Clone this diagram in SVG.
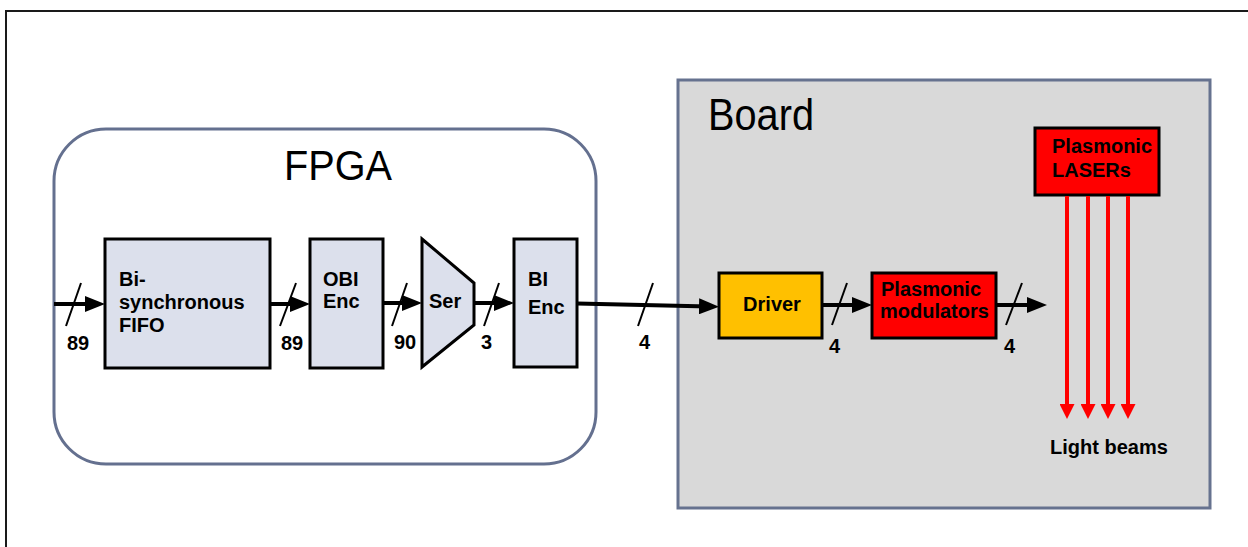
<svg xmlns="http://www.w3.org/2000/svg" width="1248" height="547" viewBox="0 0 1248 547">
  <style>
    .lbl { font-family: "Liberation Sans", Arial, sans-serif; font-weight: bold; font-size: 20px; fill: #000; }
    .title { font-family: "Liberation Sans", Arial, sans-serif; fill: #000; }
    .blk { fill: #DCE0EC; stroke: #000; stroke-width: 3; }
    .bus { stroke: #000; stroke-width: 4; fill: none; }
    .slash { stroke: #000; stroke-width: 2; }
    .beam { stroke: #FF0000; stroke-width: 4; fill: none; }
  </style>
  <defs>
    <marker id="head" markerUnits="userSpaceOnUse" markerWidth="20" markerHeight="16" refX="10" refY="8" orient="auto">
      <path d="M0,0 L20,8 L0,16 z" fill="#000"/>
    </marker>
    <marker id="redhead" markerUnits="userSpaceOnUse" markerWidth="15" markerHeight="15" refX="7" refY="7.5" orient="auto">
      <path d="M0,0 L15,7.5 L0,15 z" fill="#FF0000"/>
    </marker>
  </defs>

  <rect width="1248" height="547" fill="#fff"/>
  <!-- page frame -->
  <path d="M6,547 L6,11 L1248,11" fill="none" stroke="#1a1a1a" stroke-width="2"/>

  <!-- FPGA container -->
  <g id="fpga">
    <rect x="54" y="129" width="542" height="335" rx="52" ry="52" fill="#fff" stroke="#64708F" stroke-width="3"/>
    <text class="title" x="284" y="180" font-size="42" textLength="108" lengthAdjust="spacingAndGlyphs">FPGA</text>
  </g>

  <!-- Board container -->
  <g id="board">
    <rect x="678" y="80" width="532" height="428" fill="#D9D9D9" stroke="#66728F" stroke-width="3"/>
    <text class="title" x="708" y="130" font-size="44" textLength="106" lengthAdjust="spacingAndGlyphs">Board</text>
  </g>

  <g id="fifo">
    <rect class="blk" x="105" y="239" width="165" height="129"/>
    <text class="lbl" x="119" y="286">Bi-</text>
    <text class="lbl" x="119" y="309">synchronous</text>
    <text class="lbl" x="119" y="332">FIFO</text>
  </g>

  <g id="obi-enc">
    <rect class="blk" x="310" y="239" width="73" height="129"/>
    <text class="lbl" x="323" y="286">OBI</text>
    <text class="lbl" x="323" y="308">Enc</text>
  </g>

  <g id="ser">
    <polygon class="blk" points="422,239 474,283 474,325 422,367"/>
    <text class="lbl" x="429" y="308">Ser</text>
  </g>

  <g id="bi-enc">
    <rect class="blk" x="514" y="239" width="63" height="128"/>
    <text class="lbl" x="528" y="286">BI</text>
    <text class="lbl" x="528" y="314">Enc</text>
  </g>

  <g id="driver">
    <rect x="719" y="273" width="103" height="65" fill="#FFC000" stroke="#000" stroke-width="3"/>
    <text class="lbl" x="772" y="311" text-anchor="middle">Driver</text>
  </g>

  <g id="modulators">
    <rect x="872" y="273" width="124" height="65" fill="#FF0000" stroke="#000" stroke-width="3"/>
    <text class="lbl" x="881" y="296">Plasmonic</text>
    <text class="lbl" x="880" y="318">modulators</text>
  </g>

  <g id="lasers">
    <rect x="1035" y="128" width="124" height="67" fill="#FF0000" stroke="#000" stroke-width="3"/>
    <text class="lbl" x="1052" y="153">Plasmonic</text>
    <text class="lbl" x="1052" y="177">LASERs</text>
  </g>

  <g id="light-beams-label">
    <text class="lbl" x="1050" y="454">Light beams</text>
  </g>

  <!-- buses, bus-width slashes and widths -->
  <g id="connectors">
    <line class="bus" x1="54" y1="304" x2="95" y2="304" marker-end="url(#head)"/>
    <line class="bus" x1="270" y1="304" x2="300" y2="304" marker-end="url(#head)"/>
    <line class="bus" x1="383" y1="303" x2="412" y2="303" marker-end="url(#head)"/>
    <line class="bus" x1="474" y1="303" x2="504" y2="303" marker-end="url(#head)"/>
    <line class="bus" x1="577" y1="303.5" x2="709" y2="306.5" marker-end="url(#head)"/>
    <line class="bus" x1="822" y1="305" x2="862" y2="305" marker-end="url(#head)"/>
    <line class="bus" x1="996" y1="305" x2="1037" y2="305" marker-end="url(#head)"/>

    <line class="slash" x1="81" y1="283" x2="66" y2="326"/>
    <line class="slash" x1="296" y1="283" x2="280" y2="326"/>
    <line class="slash" x1="407" y1="283" x2="392" y2="326"/>
    <line class="slash" x1="499" y1="283" x2="484" y2="326"/>
    <line class="slash" x1="653" y1="283" x2="638" y2="326"/>
    <line class="slash" x1="847" y1="283" x2="832" y2="325"/>
    <line class="slash" x1="1022" y1="283" x2="1006" y2="325"/>

    <text class="lbl" x="67" y="350">89</text>
    <text class="lbl" x="281" y="350">89</text>
    <text class="lbl" x="394" y="349">90</text>
    <text class="lbl" x="481" y="349">3</text>
    <text class="lbl" x="639" y="349">4</text>
    <text class="lbl" x="829" y="353">4</text>
    <text class="lbl" x="1004" y="353">4</text>

    <line class="beam" x1="1067" y1="196" x2="1067" y2="411" marker-end="url(#redhead)"/>
    <line class="beam" x1="1088" y1="196" x2="1088" y2="411" marker-end="url(#redhead)"/>
    <line class="beam" x1="1108" y1="196" x2="1108" y2="411" marker-end="url(#redhead)"/>
    <line class="beam" x1="1128" y1="196" x2="1128" y2="411" marker-end="url(#redhead)"/>
  </g>
</svg>
